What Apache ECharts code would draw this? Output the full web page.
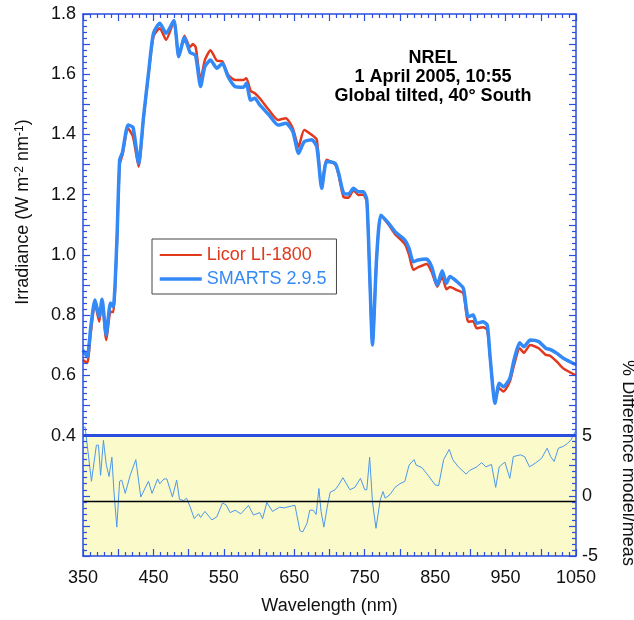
<!DOCTYPE html>
<html>
<head>
<meta charset="utf-8">
<script src="https://cdn.jsdelivr.net/npm/echarts@6/dist/echarts.min.js"></script>
<style>
  html, body { margin: 0; padding: 0; background: #fff; }
  #chart { width: 634px; height: 620px; }
</style>
</head>
<body>
<div id="chart"></div>
<script>
// spectra, W m-2 nm-1
const wavelengths = [350, 356, 361, 367, 373, 377, 383, 389, 393, 398, 402, 406, 414, 421, 429, 436, 443, 450, 459, 468,
  479, 486, 494, 502, 506, 510, 517, 523, 531, 540, 548, 556, 566, 578, 582, 588, 594, 601, 614, 627,
  638, 648, 656, 664, 675, 682, 689, 696, 708, 713, 720, 727, 734, 741, 748, 753, 757, 761, 767, 773,
  784, 793, 807, 813, 819, 826, 838, 845, 853, 860, 866, 871, 881, 890, 897, 904, 909, 918, 924, 928,
  935, 941, 947, 956, 962, 970, 976, 985, 997, 1007, 1013, 1023, 1032, 1050];
const smarts = [0.684, 0.662, 0.76, 0.850, 0.795, 0.853, 0.734, 0.840, 0.828, 1.04, 1.315, 1.340, 1.431, 1.424, 1.304, 1.459, 1.603, 1.736, 1.769, 1.736,
  1.778, 1.658, 1.722, 1.672, 1.668, 1.662, 1.559, 1.625, 1.647, 1.620, 1.636, 1.592, 1.559, 1.557, 1.570, 1.514, 1.520, 1.498, 1.465, 1.431,
  1.437, 1.409, 1.337, 1.376, 1.382, 1.359, 1.221, 1.310, 1.304, 1.271, 1.205, 1.202, 1.221, 1.210, 1.210, 1.182, 0.94, 0.701, 0.994, 1.132,
  1.105, 1.077, 1.049, 1.022, 0.977, 0.983, 0.986, 0.961, 0.900, 0.947, 0.906, 0.928, 0.911, 0.889, 0.795, 0.800, 0.773, 0.778, 0.767, 0.662,
  0.507, 0.574, 0.562, 0.590, 0.651, 0.708, 0.695, 0.717, 0.712, 0.690, 0.686, 0.673, 0.657, 0.635];
const licor = [0.651, 0.641, 0.74, 0.840, 0.778, 0.845, 0.717, 0.811, 0.810, 1.03, 1.300, 1.332, 1.420, 1.393, 1.293, 1.455, 1.600, 1.725, 1.753, 1.714,
  1.775, 1.658, 1.728, 1.690, 1.700, 1.690, 1.581, 1.647, 1.680, 1.645, 1.642, 1.598, 1.581, 1.581, 1.587, 1.545, 1.537, 1.520, 1.481, 1.448,
  1.454, 1.420, 1.359, 1.415, 1.398, 1.382, 1.225, 1.316, 1.300, 1.265, 1.192, 1.190, 1.215, 1.199, 1.200, 1.175, 0.94, 0.700, 0.990, 1.130,
  1.100, 1.069, 1.036, 1.000, 0.950, 0.959, 0.970, 0.944, 0.894, 0.928, 0.886, 0.893, 0.883, 0.872, 0.778, 0.780, 0.756, 0.760, 0.750, 0.660,
  0.520, 0.557, 0.546, 0.579, 0.634, 0.690, 0.675, 0.701, 0.690, 0.668, 0.665, 0.645, 0.623, 0.600];

// % difference model/meas
const diffWavelengths = [350, 353, 356, 362, 369, 372, 375, 379, 383, 387, 391, 394, 398, 402, 405, 410, 417, 425, 432, 443,
  448, 456, 459, 465, 469, 477, 483, 487, 493, 497, 502, 508, 514, 517, 523, 533, 540, 548, 553, 559,
  566, 574, 585, 592, 601, 605, 611, 619, 629, 636, 646, 651, 658, 662, 668, 672, 677, 681, 685, 688,
  692, 697, 701, 708, 713, 719, 729, 736, 744, 750, 753, 757, 761, 766, 772, 776, 779, 786, 793, 800,
  807, 813, 820, 823, 831, 840, 850, 855, 862, 870, 875, 883, 894, 899, 909, 916, 922, 930, 936, 941,
  949, 956, 961, 971, 977, 984, 992, 1001, 1009, 1014, 1019, 1025, 1032, 1038, 1043, 1049];
const diffPct = [5.7, 5.7, 4.2, 1.2, 4.2, 4.2, 1.7, 4.6, 2.6, 1.6, 3.2, 0.3, -2.6, 1.2, 1.3, 0.2, 1.7, 3.0, -0.1, 1.2,
  0.2, 1.4, 1.0, 1.4, 1.4, -0.1, 1.3, -0.3, -0.4, -0.2, -0.9, -1.9, -1.5, -1.8, -1.3, -2.0, -1.75, -0.6, -0.75, -1.4,
  -1.2, -1.5, -0.8, -1.6, -1.4, -1.9, -0.55, -1.3, -0.95, -1.0, -0.85, -0.8, -2.9, -3.0, -2.3, -1.2, -1.2, -1.55, 0.6, -1.3,
  -2.6, -0.85, 0.3, 0.5, 0.9, 1.5, 0.5, 0.7, 1.45, 0.5, 0.5, 3.2, -0.5, -2.7, -0.35, 0.35, -0.2, 0.1, 0.7, 1.0,
  1.2, 2.55, 3.0, 2.55, 2.35, 1.7, 0.9, 0.85, 3.0, 3.85, 3.0, 2.4, 1.8, 2.1, 2.4, 2.75, 2.4, 2.6, 0.7, 2.4,
  2.8, 1.45, 3.25, 3.4, 3.25, 2.4, 2.7, 3.1, 3.95, 3.25, 2.85, 3.95, 4.1, 4.35, 4.65, 5.35];

const diffBand = [-5, 5];     // yellow panel on the right axis
const zeroLine = -0.45;       // black reference line as drawn

const FONT = '"Liberation Sans", Arial, Helvetica, sans-serif';
const AXIS_BLUE = '#2b4ee0';
const RED = '#e2381c';
const BLUE = '#338af7';

const zip = (xs, ys) => xs.map((x, i) => [x, ys[i]]);

const chart = echarts.init(document.getElementById('chart'));

const tickCommon = {
    axisLine: { show: true, onZero: false, lineStyle: { color: AXIS_BLUE, width: 1.5 } },
    axisTick: { show: true, inside: true, length: 7, lineStyle: { color: AXIS_BLUE, width: 1.2 } },
    minorTick: { show: true, splitNumber: 5, length: 4, lineStyle: { color: AXIS_BLUE, width: 1.2 } },
    splitLine: { show: false },
    minorSplitLine: { show: false },
    z: 5
};

chart.setOption({
    animation: false,
    textStyle: { fontFamily: FONT },
    grid: { left: 83, right: 58, top: 14, bottom: 64 },
    legend: {
        left: 152, top: 239,
        orient: 'vertical',
        backgroundColor: '#fff',
        borderColor: '#444', borderWidth: 1,
        padding: [7, 10, 6, 6],
        itemWidth: 42, itemHeight: 12, itemGap: 6,
        itemStyle: { opacity: 0, borderWidth: 0 },
        textStyle: { fontSize: 18, fontFamily: FONT },
        data: [
            { name: 'Licor LI-1800', textStyle: { color: RED }, lineStyle: { width: 2 } },
            { name: 'SMARTS 2.9.5', textStyle: { color: BLUE }, lineStyle: { width: 3.5 } }
        ]
    },
    xAxis: [
        Object.assign({
            type: 'value', min: 350, max: 1050, interval: 50,
            name: 'Wavelength (nm)', nameLocation: 'middle', nameGap: 41,
            nameTextStyle: { fontSize: 18, color: '#111', fontFamily: FONT },
            axisLabel: {
                fontSize: 18, color: '#111', margin: 13,
                formatter: v => ((v - 350) % 100 === 0 ? String(v) : '')
            }
        }, tickCommon),
        Object.assign({
            type: 'value', position: 'top', min: 350, max: 1050, interval: 50,
            axisLabel: { show: false }
        }, tickCommon)
    ],
    yAxis: [
        Object.assign({
            type: 'value', min: 0, max: 1.8, interval: 0.1,
            axisLabel: {
                fontSize: 18, color: '#111', margin: 7,
                formatter: v => {
                    const t = Math.round(v * 10);
                    return (t >= 4 && t % 2 === 0) ? (t / 10).toFixed(1) : '';
                }
            }
        }, tickCommon),
        Object.assign({
            type: 'value', position: 'right', min: -5, max: 40, interval: 2.5,
            axisLabel: {
                fontSize: 18, color: '#111', margin: 6,
                formatter: v => ([-5, 0, 5].indexOf(v) >= 0 ? String(v) : '')
            }
        }, tickCommon)
    ],
    graphic: [
        {
            type: 'text', x: 433, y: 49,
            style: {
                text: 'NREL\n1 April 2005, 10:55\nGlobal tilted, 40° South',
                align: 'center', verticalAlign: 'top',
                font: 'bold 18px ' + FONT, lineHeight: 19, fill: '#000'
            }
        },
        {
            type: 'text', x: 23, y: 212, rotation: Math.PI / 2,
            style: {
                text: 'Irradiance (W m{sup|-2} nm{sup|-1})',
                align: 'center', verticalAlign: 'middle',
                font: '18px ' + FONT, fill: '#111',
                rich: { sup: { fontSize: 12, verticalAlign: 'top', fontFamily: FONT, fill: '#111' } }
            }
        },
        {
            type: 'text', x: 628, y: 463, rotation: -Math.PI / 2,
            style: {
                text: '% Difference model/meas',
                align: 'center', verticalAlign: 'middle',
                font: '18px ' + FONT, fill: '#111'
            }
        }
    ],
    series: [
        {
            name: '% difference',
            type: 'line', xAxisIndex: 0, yAxisIndex: 1,
            data: zip(diffWavelengths, diffPct),
            showSymbol: false, symbol: 'none',
            lineStyle: { color: '#4d98ec', width: 1 },
            markArea: {
                silent: true,
                itemStyle: { color: '#fafacb' },
                data: [[{ xAxis: 350, yAxis: diffBand[0] }, { xAxis: 1050, yAxis: diffBand[1] }]]
            },
            markLine: {
                silent: true, symbol: 'none', label: { show: false },
                data: [
                    { yAxis: diffBand[1], lineStyle: { color: AXIS_BLUE, width: 3, type: 'solid' } },
                    { yAxis: zeroLine, lineStyle: { color: '#000', width: 1.3, type: 'solid' } }
                ]
            }
        },
        {
            name: 'Licor LI-1800',
            type: 'line', xAxisIndex: 0, yAxisIndex: 0,
            data: zip(wavelengths, licor),
            showSymbol: false, symbol: 'none', smooth: 0.2,
            itemStyle: { color: RED },
            lineStyle: { color: RED, width: 2.5 }
        },
        {
            name: 'SMARTS 2.9.5',
            type: 'line', xAxisIndex: 0, yAxisIndex: 0,
            data: zip(wavelengths, smarts),
            showSymbol: false, symbol: 'none', smooth: 0.2,
            itemStyle: { color: BLUE },
            lineStyle: { color: BLUE, width: 3.5 }
        }
    ]
});
</script>
</body>
</html>
